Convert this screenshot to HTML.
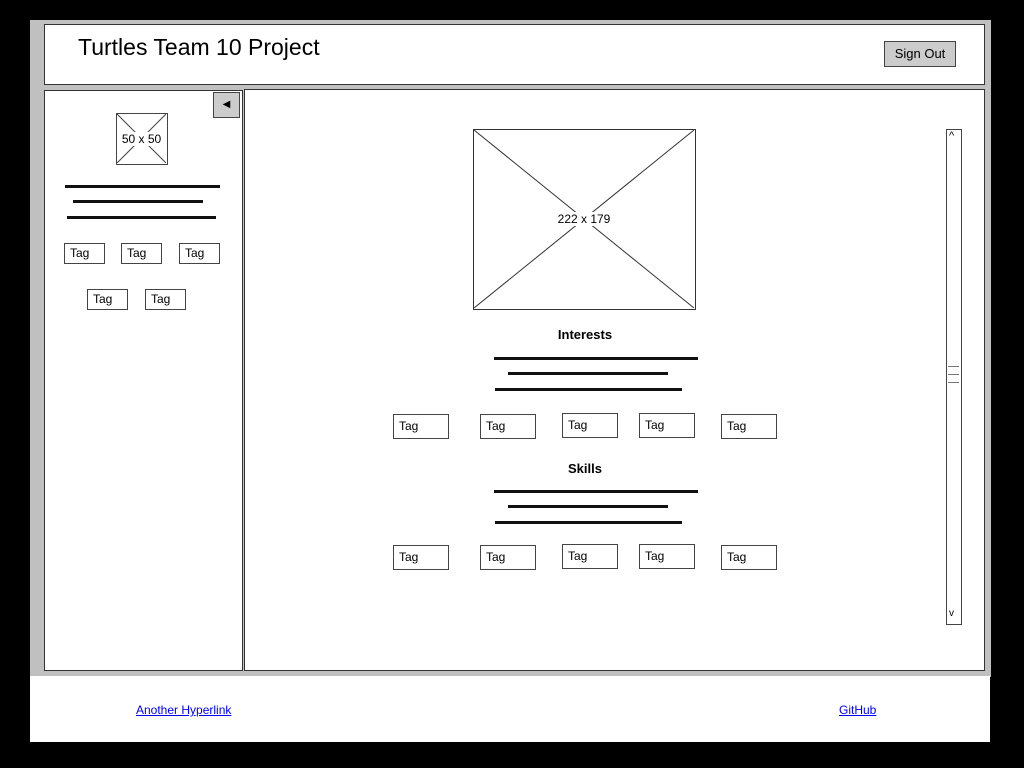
<!DOCTYPE html>
<html><head><style>
body{margin:0;width:1024px;height:768px;background:#000;position:relative;overflow:hidden;font-family:"Liberation Sans",sans-serif;}
div{position:absolute;box-sizing:border-box;}
.w{background:#fff;border:1.5px solid #333;}
.tag{width:41px;height:21px;border:1.5px solid #444;background:#fff;font-size:12px;padding:2px 0 0 5px;}
.tag2{width:56px;height:25px;border:1.5px solid #444;background:#fff;font-size:12px;padding:4px 0 0 5px;}
.ln{height:3px;background:#111;}
a{color:#00e;font-size:12px;text-decoration:underline;}
</style></head><body>
<div style="left:30px;top:20px;width:961px;height:657px;background:#c0c0c0;"></div>
<div class="w" style="left:44px;top:24px;width:941px;height:61px;"></div>
<div style="left:78px;top:34px;font-size:23px;">Turtles Team 10 Project</div>
<div style="left:884px;top:41px;width:72px;height:26px;background:#ccc;border:1.5px solid #444;font-size:13px;text-align:center;line-height:24px;">Sign Out</div>

<div class="w" style="left:44px;top:90px;width:199px;height:581px;"></div>
<div style="left:213px;top:92px;width:27px;height:26px;background:#ccc;border:1.5px solid #444;font-size:10px;text-align:center;line-height:24px;">◀</div>
<div style="left:116px;top:113px;width:52px;height:52px;border:1.5px solid #444;background:#fff;">
<svg width="49" height="49" style="position:absolute;left:0;top:0"><line x1="0" y1="0" x2="49" y2="49" stroke="#444"/><line x1="49" y1="0" x2="0" y2="49" stroke="#444"/></svg>
<div style="left:2px;top:18px;width:45px;text-align:center;font-size:12px;background:#fff;">50 x 50</div></div>
<div class="ln" style="left:65px;top:185px;width:155px;"></div>
<div class="ln" style="left:73px;top:200px;width:130px;"></div>
<div class="ln" style="left:67px;top:216px;width:149px;"></div>
<div class="tag" style="left:64px;top:243px;">Tag</div>
<div class="tag" style="left:121px;top:243px;">Tag</div>
<div class="tag" style="left:179px;top:243px;">Tag</div>
<div class="tag" style="left:87px;top:289px;">Tag</div>
<div class="tag" style="left:145px;top:289px;">Tag</div>

<div class="w" style="left:244px;top:89px;width:741px;height:582px;"></div>
<div style="left:473px;top:129px;width:223px;height:181px;border:1.5px solid #333;background:#fff;">
<svg width="220" height="178" style="position:absolute;left:0;top:0"><line x1="0" y1="0" x2="220" y2="178" stroke="#333"/><line x1="220" y1="0" x2="0" y2="178" stroke="#333"/></svg>
<div style="left:80px;top:82px;width:60px;text-align:center;font-size:12px;background:#fff;">222 x 179</div></div>
<div style="left:535px;top:327px;width:100px;text-align:center;font-size:13px;font-weight:bold;">Interests</div>
<div class="ln" style="left:494px;top:357px;width:204px;"></div>
<div class="ln" style="left:508px;top:372px;width:160px;"></div>
<div class="ln" style="left:495px;top:388px;width:187px;"></div>
<div class="tag2" style="left:393px;top:414px;">Tag</div>
<div class="tag2" style="left:480px;top:414px;">Tag</div>
<div class="tag2" style="left:562px;top:413px;">Tag</div>
<div class="tag2" style="left:639px;top:413px;">Tag</div>
<div class="tag2" style="left:721px;top:414px;">Tag</div>
<div style="left:535px;top:461px;width:100px;text-align:center;font-size:13px;font-weight:bold;">Skills</div>
<div class="ln" style="left:494px;top:490px;width:204px;"></div>
<div class="ln" style="left:508px;top:505px;width:160px;"></div>
<div class="ln" style="left:495px;top:521px;width:187px;"></div>
<div class="tag2" style="left:393px;top:545px;">Tag</div>
<div class="tag2" style="left:480px;top:545px;">Tag</div>
<div class="tag2" style="left:562px;top:544px;">Tag</div>
<div class="tag2" style="left:639px;top:544px;">Tag</div>
<div class="tag2" style="left:721px;top:545px;">Tag</div>

<div style="left:946px;top:129px;width:16px;height:496px;border:1.5px solid #444;background:#fff;">
<div style="left:2px;top:0;font-size:11px;">^</div>
<div style="left:1px;top:236px;width:11px;height:1px;background:#777;"></div>
<div style="left:1px;top:244px;width:11px;height:1px;background:#777;"></div>
<div style="left:1px;top:252px;width:11px;height:1px;background:#777;"></div>
<div style="left:2px;top:478px;font-size:10px;">v</div>
</div>

<div style="left:30px;top:676px;width:960px;height:66px;background:#fff;"></div>
<div style="left:136px;top:701px;"><a>Another Hyperlink</a></div>
<div style="left:839px;top:701px;"><a>GitHub</a></div>
</body></html>
